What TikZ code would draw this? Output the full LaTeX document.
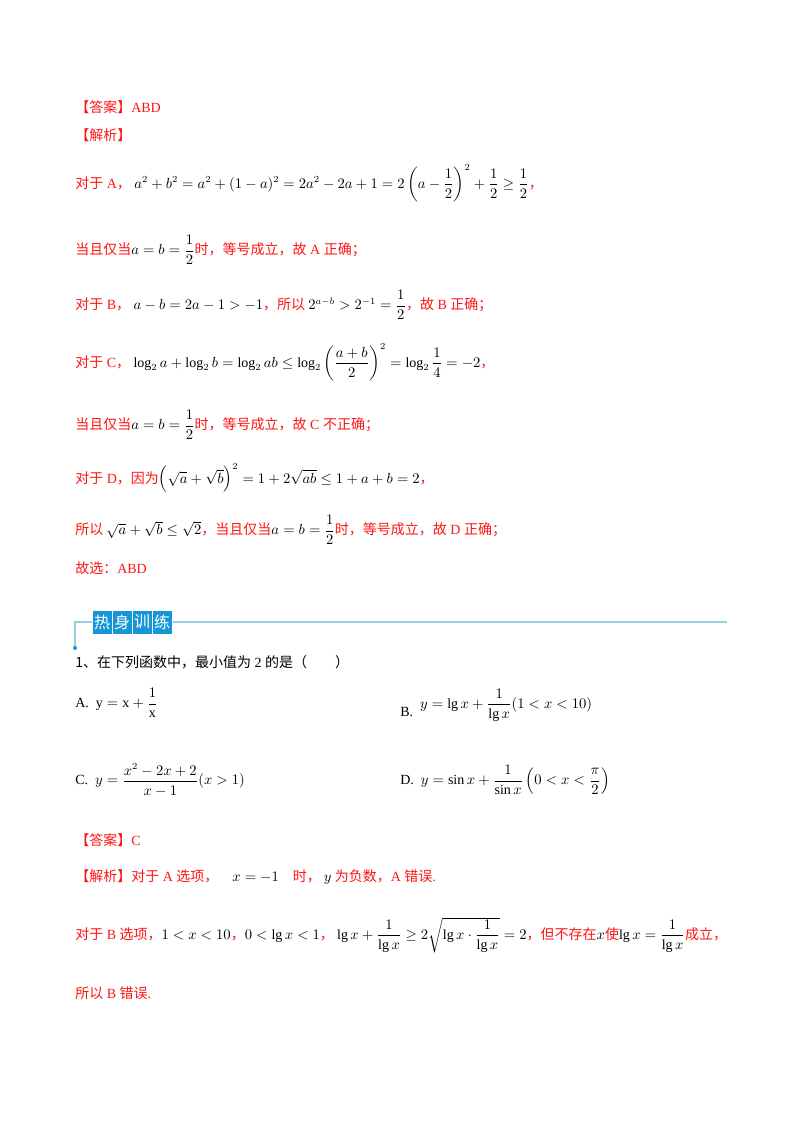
\documentclass[tikz,border=0pt]{standalone}
\usepackage{amsmath}
\usepackage{fontspec}
\setmainfont{Liberation Serif}
\newfontfamily\cjk{Noto Sans CJK SC}
\definecolor{ared}{RGB}{255,20,20}
\definecolor{lblue}{RGB}{150,205,225}
\definecolor{bblue}{RGB}{20,150,215}
\newcommand{\bk}[1]{{\color{black}#1}}
\newcommand{\cm}{{\cjk ，}}
\tikzset{red line/.style={anchor=west,inner sep=0pt,text=ared,font=\fontsize{10.5}{12}\selectfont},
 blk line/.style={anchor=west,inner sep=0pt,text=black,font=\fontsize{10.5}{12}\selectfont},
 tab/.style={fill=bblue,draw=white,line width=0.6pt,text=white,minimum width=15pt,minimum height=18pt,inner sep=0pt,font=\cjk\fontsize{12}{12}\selectfont}}
\begin{document}
\begin{tikzpicture}[x=0.75pt,y=-0.75pt]
\useasboundingbox (0,0) rectangle (800,1132);
\node[red line] (l1) at (75,107) {\cjk 【答案】\rmfamily ABD};
\node[red line] (l2) at (75,135) {\cjk 【解析】};
\node[red line] (l3) at (75,183) {\cjk 对于\rmfamily\ A\cm\ \bk{$a^2+b^2=a^2+(1-a)^2=2a^2-2a+1=2\left(a-\dfrac12\right)^2+\dfrac12\geq\dfrac12$}\cm};
\node[red line] (l4) at (75,250) {\cjk 当且仅当\bk{$a=b=\dfrac12$}时，等号成立，故\rmfamily\ A \cjk 正确；};
\node[red line] (l5) at (75,305) {\cjk 对于\rmfamily\ B\cm\ \bk{$a-b=2a-1>-1$}\cm\cjk 所以\ \bk{$2^{a-b}>2^{-1}=\dfrac12$}，故\rmfamily\ B \cjk 正确；};
\node[red line] (l6) at (75,362) {\cjk 对于\rmfamily\ C\cm\ \bk{$\log_2a+\log_2b=\log_2ab\leq\log_2\left(\dfrac{a+b}{2}\right)^2=\log_2\dfrac14=-2$}\cm};
\node[red line] (l7) at (75,425) {\cjk 当且仅当\bk{$a=b=\dfrac12$}时，等号成立，故\rmfamily\ C \cjk 不正确；};
\node[red line] (l8) at (75,478) {\cjk 对于\rmfamily\ D\cjk ，因为\bk{$\left(\sqrt a+\sqrt b\right)^2=1+2\sqrt{ab}\leq1+a+b=2$}，};
\node[red line] (l9) at (75,530) {\cjk 所以\ \bk{$\sqrt a+\sqrt b\leq\sqrt2$}，当且仅当\bk{$a=b=\dfrac12$}时，等号成立，故\rmfamily\ D \cjk 正确；};
\node[red line] (l10) at (75,568) {\cjk 故选：\rmfamily ABD};
\coordinate (h1) at (75,622); \coordinate (h2) at (727,622); \coordinate (h3) at (75,648);
\draw[lblue,line width=1.2pt] (h3) -- (h1) -- (h2);
\fill[bblue] (h3) circle (2);
\node[tab] (t1) at (102,622) {热};
\node[tab] (t2) at (122,622) {身};
\node[tab] (t3) at (142,622) {训};
\node[tab] (t4) at (162,622) {练};
\node[blk line] (q1) at (75,662) {\cjk 1、在下列函数中，最小值为\rmfamily\ 2 \cjk 的是（\qquad）};
\node[blk line] (qa) at (75,703) {A.\ \ $\mathrm{y}=\mathrm{x}+\dfrac{1}{\mathrm{x}}$};
\node[blk line] (qb) at (400,705) {B.\ \ \raisebox{6pt}{$y=\lg x+\dfrac{1}{\lg x}(1<x<10)$}};
\node[blk line] (qc) at (75,780) {C.\ \ $y=\dfrac{x^2-2x+2}{x-1}(x>1)$};
\node[blk line] (qd) at (400,780) {D.\ \ $y=\sin x+\dfrac{1}{\sin x}\left(0<x<\dfrac{\pi}{2}\right)$};
\node[red line] (a1) at (75,840) {\cjk 【答案】\rmfamily C};
\node[red line] (a2) at (75,877) {\cjk 【解析】对于\rmfamily\ A \cjk 选项，\quad\bk{$x=-1$}\quad 时，\ \bk{$y$}\ 为负数，\rmfamily A \cjk 错误\rmfamily .};
\node[red line] (a3) at (75,935) {\cjk 对于\rmfamily\ B \cjk 选项，\bk{$1<x<10$}，\bk{$0<\lg x<1$}，\ \bk{$\lg x+\dfrac{1}{\lg x}\geq2\sqrt{\lg x\cdot\dfrac{1}{\lg x}}=2$}，但不存在\bk{$x$}使\bk{$\lg x=\dfrac{1}{\lg x}$}成立，};
\node[red line] (a4) at (75,993) {\cjk 所以\rmfamily\ B \cjk 错误\rmfamily .};
\end{tikzpicture}
\end{document}
